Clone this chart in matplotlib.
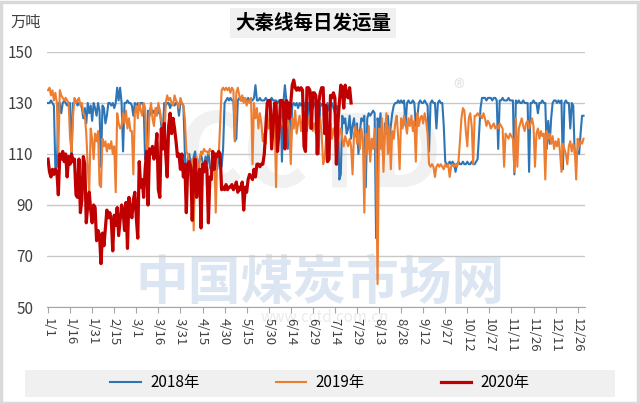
import numpy as np
import matplotlib
matplotlib.use("Agg")
import matplotlib.pyplot as plt
from matplotlib.patches import Rectangle

plt.rcParams['font.family'] = ['Noto Sans CJK SC', 'DejaVu Sans']

# ---------------- data (万吨, daily) ----------------
vals_2018 = [
    130, 130, 131, 130, 129, 104, 105, 130, 130, 126,
    130, 131, 130, 129, 130, 130, 109, 130, 130, 131,
    129, 130, 130, 128, 124, 128, 122, 130, 126, 129,
    123, 130, 128, 125, 130, 127, 105, 129, 128, 122,
    125, 130, 130, 129, 130, 128, 130, 136, 131, 136,
    130, 111, 130, 130, 131, 130, 130, 129, 125, 130,
    129, 130, 128, 130, 130, 129, 108, 110, 127, 125,
    128, 126, 127, 125, 128, 126, 127, 121, 119, 130,
    129, 130, 130, 128, 130, 130, 129, 130, 130, 125,
    130, 130, 129, 111, 93, 108, 110, 106, 104, 109,
    111, 105, 103, 108, 110, 107, 104, 109, 106, 111,
    105, 103, 108, 110, 106, 104, 109, 107, 105, 112,
    130, 131, 132, 131, 132, 131, 131, 115, 116, 131,
    132, 131, 131, 132, 131, 131, 132, 131, 131, 131,
    132, 137, 131, 131, 132, 131, 131, 131, 132, 131,
    131, 131, 132, 131, 131, 131, 130, 131, 131, 107,
    130, 137, 131, 112, 130, 113, 129, 130, 129, 130,
    128, 130, 129, 130, 130, 128, 119, 130, 129, 130,
    128, 130, 129, 128, 110, 130, 129, 130, 128, 129,
    130, 127, 129, 130, 128, 126, 129, 128, 100, 102,
    125, 122, 124, 118, 120, 125, 116, 121, 124, 117,
    122, 110, 119, 124, 123, 125, 97, 124, 126, 125,
    126, 127, 126, 77, 124, 120, 126, 115, 108, 122,
    118, 125, 116, 121, 126, 129, 130, 130, 131, 130,
    131, 130, 131, 121, 130, 131, 130, 130, 131, 130,
    121, 124, 130, 131, 130, 130, 131, 130, 129, 111,
    130, 131, 130, 130, 120, 130, 131, 130, 130, 121,
    107, 106, 106, 107, 106, 107, 106, 103, 106, 107,
    106, 106, 107, 106, 106, 107, 106, 106, 107, 106,
    106, 107, 108, 118, 128, 132, 132, 132, 131, 132,
    132, 132, 131, 132, 132, 131, 112, 131, 131, 132,
    131, 131, 131, 132, 131, 131, 131, 102, 131, 130,
    131, 130, 130, 131, 130, 130, 130, 103, 130, 130,
    131, 130, 130, 126, 130, 130, 131, 130, 130, 112,
    123, 114, 124, 130, 131, 131, 130, 131, 130, 131,
    104, 130, 131, 130, 130, 120, 130, 129, 110, 110,
    111, 110, 118, 125, 125,
]

vals_2019 = [
    135, 136, 133, 135, 131, 134, 130, 110, 135, 133,
    132, 131, 132, 131, 130, 116, 111, 125, 132, 130,
    131, 132, 129, 130, 126, 125, 118, 105, 95, 120,
    116, 108, 118, 115, 119, 98, 97, 116, 113, 115,
    111, 114, 112, 115, 110, 113, 95, 126, 122, 120,
    121, 126, 122, 127, 120, 124, 119, 119, 102, 126,
    129, 124, 130, 127, 125, 130, 128, 112, 111, 126,
    130, 124, 121, 128, 125, 130, 127, 123, 121, 112,
    130, 133, 131, 132, 130, 129, 133, 131, 130, 128,
    132, 130, 129, 124, 111, 110, 106, 101, 108, 80,
    104, 109, 101, 107, 111, 110, 112, 111, 111, 110,
    112, 111, 111, 110, 87, 110, 109, 122, 135, 136,
    135, 136, 135, 136, 134, 136, 135, 115, 134, 136,
    133, 131, 133, 130, 132, 129, 131, 130, 132, 106,
    130, 124, 128, 120, 126, 122, 115, 118, 114, 126,
    120, 124, 118, 122, 125, 97, 125, 120, 124, 122,
    121, 126, 120, 123, 121, 106, 124, 120, 127, 118,
    122, 125, 119, 123, 126, 117, 121, 124, 120, 125,
    119, 122, 118, 123, 120, 124, 118, 106, 108, 116,
    121, 119, 122, 116, 120, 117, 121, 115, 118, 120,
    116, 113, 117, 115, 113, 116, 113, 102, 118, 121,
    114, 119, 112, 120, 116, 87, 118, 110, 121, 107,
    116, 112, 120, 108, 59, 120, 112, 124, 103, 118,
    126, 110, 121, 104, 119, 116, 122, 125, 117, 104,
    124, 120, 125, 122, 118, 124, 121, 125, 119, 123,
    107, 126, 121, 124, 125, 122, 126, 123, 118, 106,
    105, 106, 105, 101, 105, 106, 105, 106, 105, 104,
    106, 105, 106, 101, 105, 106, 105, 106, 105, 107,
    115, 124, 128, 127, 119, 113, 124, 126, 121, 106,
    125, 125, 126, 125, 125, 124, 126, 124, 121, 123,
    122, 120, 121, 122, 120, 121, 120, 122, 121, 120,
    105, 118, 117, 116, 118, 117, 116, 103, 124, 105,
    120, 122, 124, 121, 119, 122, 123, 120, 122, 124,
    121, 105, 118, 120, 116, 119, 117, 118, 100, 119,
    116, 118, 114, 117, 112, 115, 113, 116, 111, 103,
    114, 112, 110, 106, 113, 115, 111, 114, 112, 100,
    116, 113, 115, 114, 116,
]

vals_2020 = [
    108, 103, 101, 104, 102, 104, 103, 94, 110, 108,
    111, 107, 110, 101, 109, 106, 110, 107, 108, 94,
    93, 108, 87, 92, 109, 106, 83, 90, 95, 88,
    83, 90, 89, 76, 80, 78, 67, 79, 74, 81,
    88, 85, 87, 84, 72, 86, 82, 89, 78, 84,
    90, 88, 80, 91, 73, 93, 88, 85, 92, 95,
    85, 77, 107, 97, 100, 93, 104, 111, 90, 112,
    110, 113, 108, 111, 118, 96, 93, 120, 112, 122,
    110, 101, 121, 126, 118, 124, 120, 115, 109, 110,
    104, 110, 101, 106, 87, 106, 107, 105, 84, 102,
    108, 93, 101, 104, 81, 106, 103, 107, 104, 83,
    101, 100, 111, 104, 110, 109, 111, 110, 96, 97,
    96, 98, 96, 97, 97, 98, 96, 97, 99, 95,
    97, 96, 99, 88, 97, 95, 100, 102, 101, 100,
    104, 101, 106, 106, 105, 106, 106, 110, 120, 130,
    131, 131, 112, 121, 130, 130, 111, 119, 131, 131,
    130, 112, 131, 130, 124, 130, 137, 139, 136, 135,
    136, 135, 136, 135, 113, 111, 136, 136, 135, 120,
    134, 134, 133, 110, 130, 134, 136, 136, 118, 129,
    107, 108, 133, 132, 134, 132, 106, 122, 130, 137,
    136, 128, 137, 133, 132, 136, 130,
]

series_names = ['2018年', '2019年', '2020年']
series_colors = ['#2E75B6', '#ED7D31', '#C00000']

tick_labels = ['1/1', '1/16', '1/31', '2/15', '3/1', '3/16', '3/31', '4/15',
               '4/30', '5/15', '5/30', '6/14', '6/29', '7/14', '7/29', '8/13',
               '8/28', '9/12', '9/27', '10/12', '10/27', '11/11', '11/26',
               '12/11', '12/26']
y_ticks = [50, 70, 90, 110, 130, 150]

title = '大秦线每日发运量'
unit = '万吨'

# ---------------- figure ----------------
W, H = 640, 404
fig = plt.figure(figsize=(W / 100, H / 100), dpi=100)
fig.patch.set_facecolor('white')
fig.patches.append(Rectangle((0.002, 0.003), 0.995, 0.993, transform=fig.transFigure,
                             fill=False, edgecolor='#D9D9D9', linewidth=2.5))

# watermark (drawn beneath the axes)
wm = fig.add_axes([0, 0, 1, 1], zorder=0)
wm.axis('off')
wm.set_xlim(0, W)
wm.set_ylim(H, 0)
wm.text(320, 283, '中国煤炭市场网', fontsize=38, color='#DCE6F2',
        ha='center', va='center', fontweight='bold')
wm.text(310, 158, 'CCTD', fontsize=72, color='#F1F1F1',
        ha='center', va='center', fontweight='bold')
wm.text(459, 90, '®', fontsize=16, color='#E2E2E2', ha='center', va='center')
wm.text(325, 318, 'www.cctd.com.cn', fontsize=11, color='#EBEBEB',
        ha='center', va='center')

ax = fig.add_axes([47 / W, 1 - 307 / H, 538 / W, 255 / H], zorder=1)
ax.set_facecolor('none')

lws = [1.5, 1.5, 2.3]
for vals, name, col, lw in zip([vals_2018, vals_2019, vals_2020], series_names,
                               series_colors, lws):
    x = np.arange(len(vals))
    ax.plot(x, vals, color=col, lw=lw, label=name, solid_joinstyle='round')

ax.set_ylim(50, 150)
ax.set_xlim(-0.7, 365)
ax.set_yticks(y_ticks)
ax.set_yticklabels([str(v) for v in y_ticks], fontsize=11, color='#404040')
ax.tick_params(axis='y', length=0, pad=10)
ax.set_xticks(np.arange(len(tick_labels)) * 15)
ax.set_xticklabels(tick_labels, rotation=-90, fontsize=9.5, color='#404040')
ax.tick_params(axis='x', length=4, color='#A6A6A6', pad=4)
ax.grid(axis='y', color='#C8C8C8', lw=1)
ax.set_axisbelow(True)
for s in ['left', 'right', 'top']:
    ax.spines[s].set_visible(False)
ax.spines['bottom'].set_color('#A6A6A6')

# title
fig.text(313 / W, 1 - 23 / H, title, fontsize=14, fontweight='bold', color='#000000',
         ha='center', va='center',
         bbox=dict(boxstyle='square,pad=0.25', facecolor='#F0F0F0', edgecolor='none'))
fig.text(10 / W, 1 - 22 / H, unit, fontsize=11, color='#404040', ha='left', va='center')

# legend
fig.patches.append(Rectangle((25 / W, 1 - 397 / H), 590 / W, 27 / H,
                             transform=fig.transFigure, facecolor='#F0F0F0',
                             edgecolor='none', zorder=0))
leg = fig.legend(loc='center', bbox_to_anchor=(320 / W, 1 - 383 / H), ncol=3,
                 frameon=False, fontsize=11, handlelength=2.0, columnspacing=5.0,
                 handletextpad=0.6)

fig.savefig('out.png', dpi=100)
